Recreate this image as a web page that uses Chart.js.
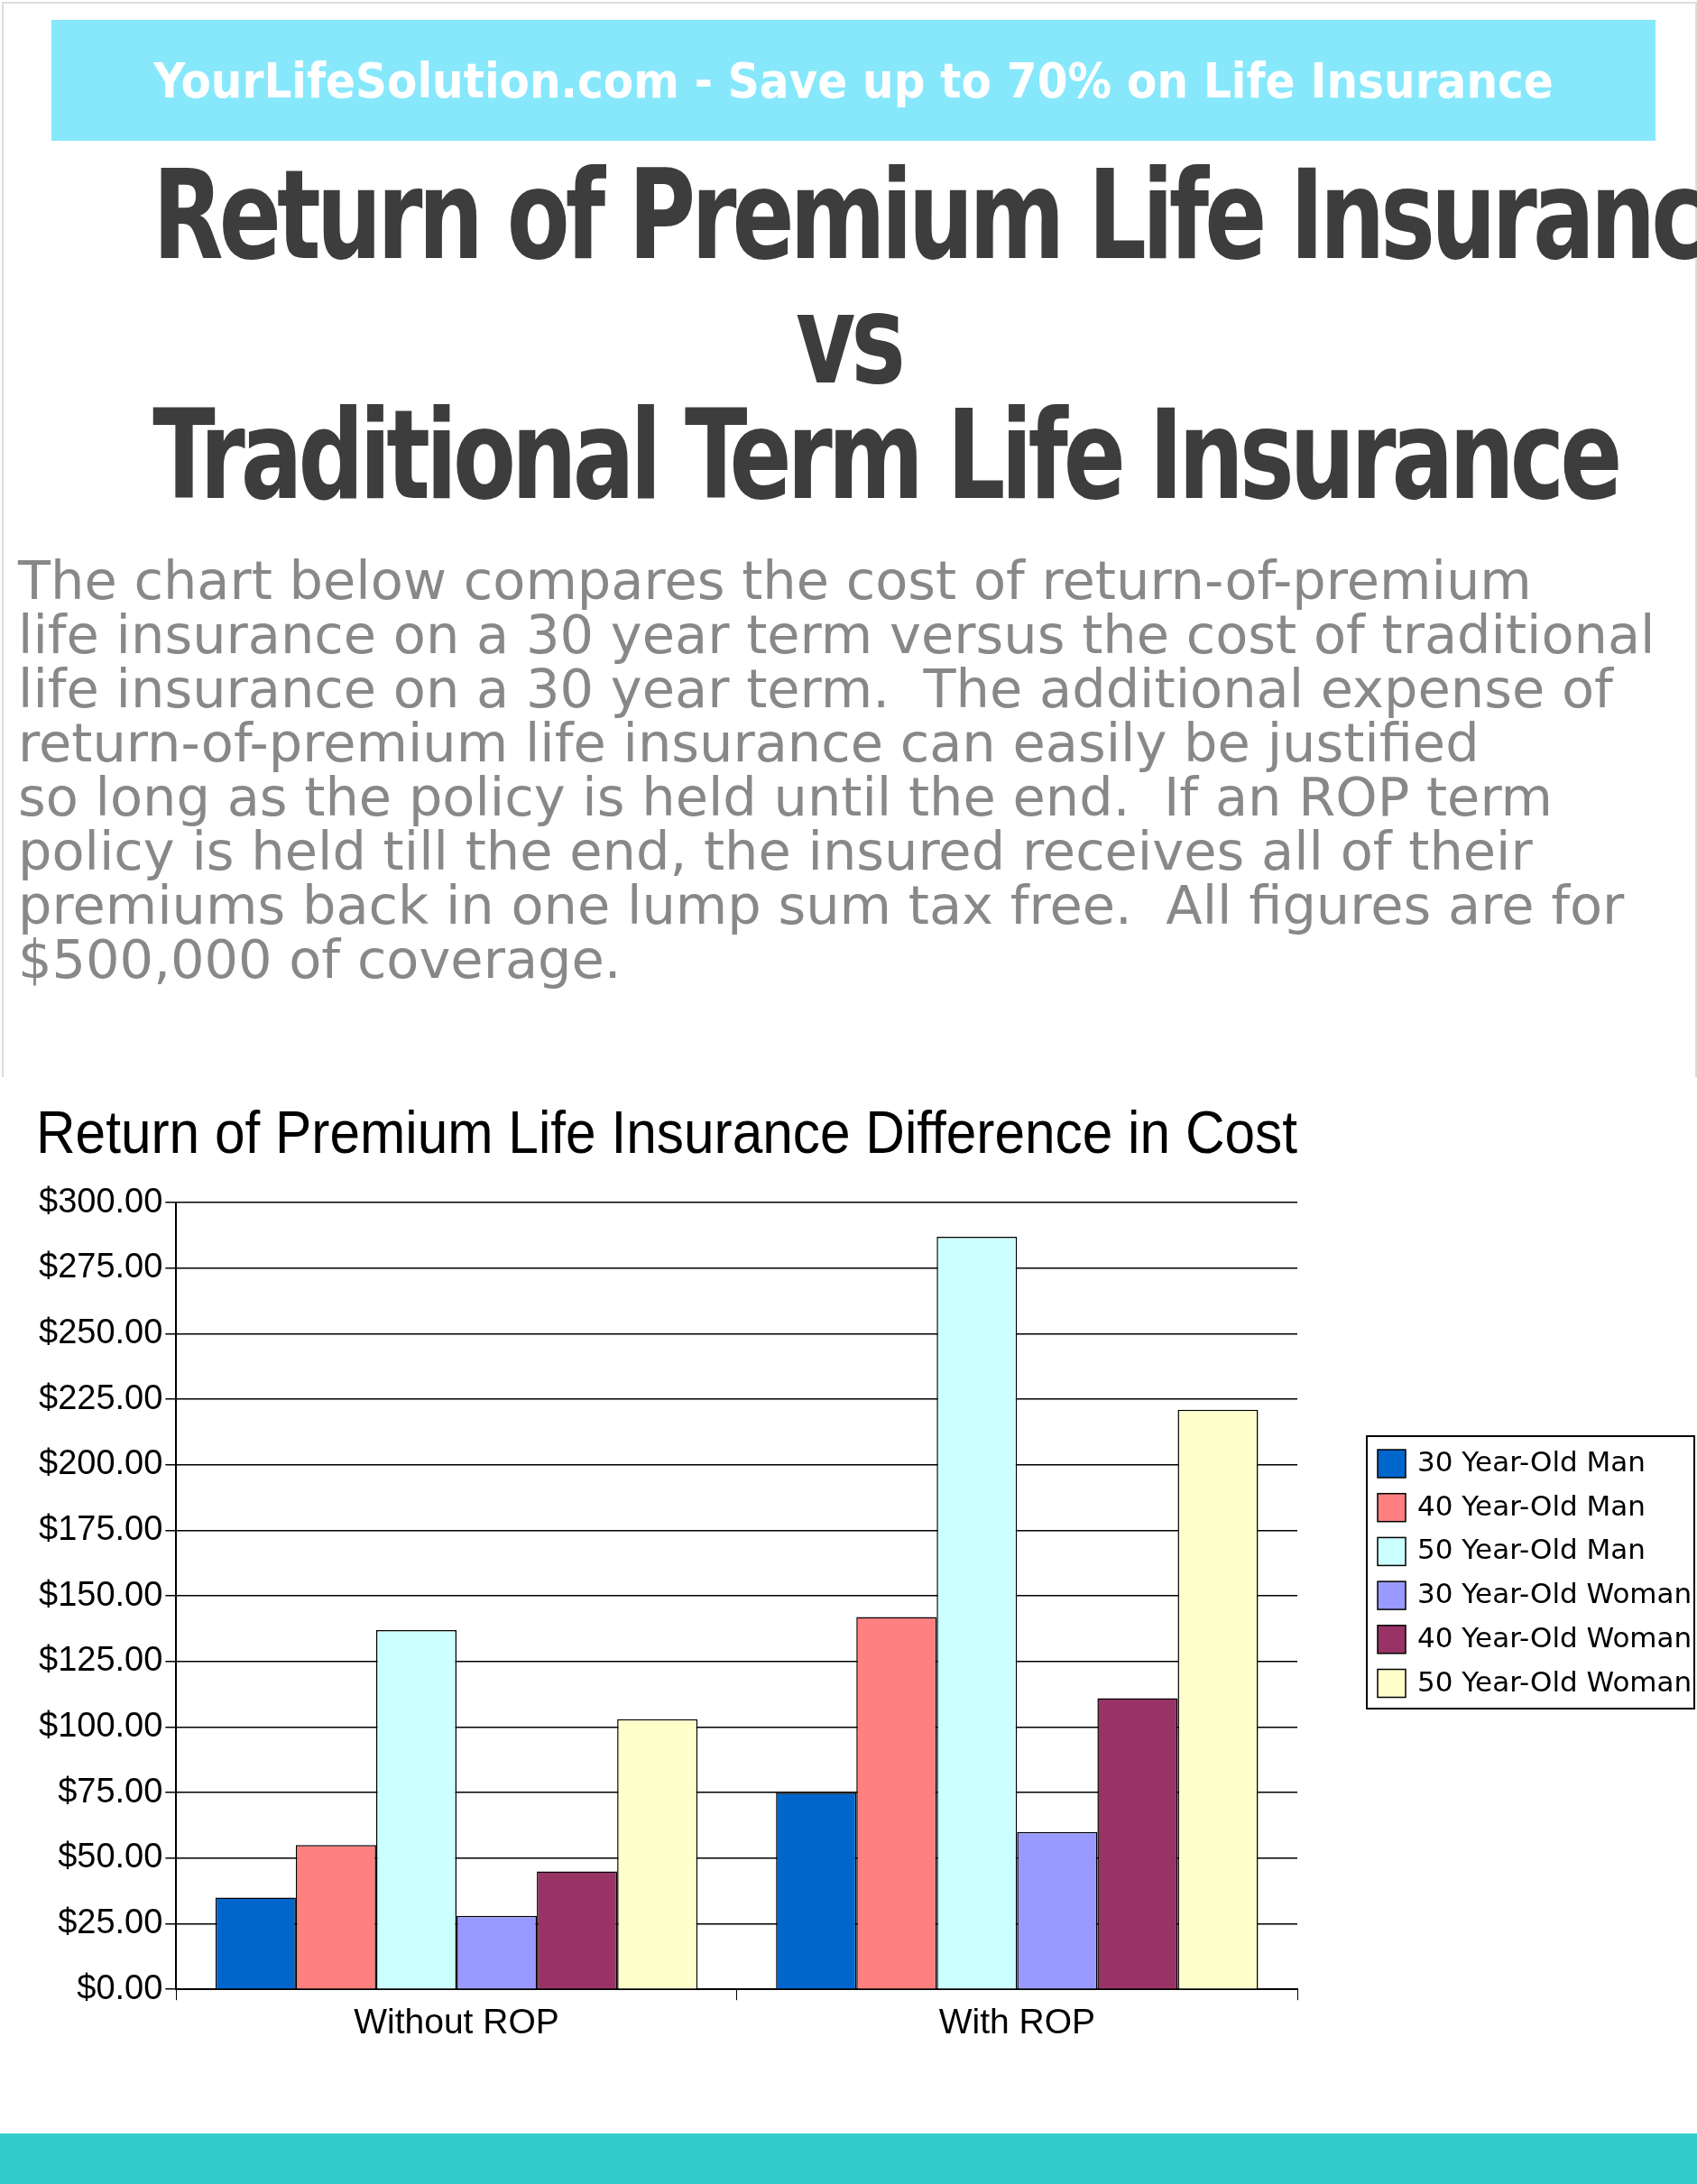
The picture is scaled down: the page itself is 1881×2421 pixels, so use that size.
<!DOCTYPE html>
<html>
<head>
<meta charset="utf-8">
<script src="https://cdn.jsdelivr.net/npm/chart.js@4"></script>
<style>
  body { margin: 0; width: 1881px; height: 2421px; background: #fff; position: relative; overflow: hidden; font-family: "DejaVu Sans", sans-serif; }
  #frame { position: absolute; left: 2px; top: 2px; width: 1875px; height: 1190px; border: 2px solid #ddd; border-bottom: none; }
  #banner { position: absolute; left: 57px; top: 22px; width: 1778px; height: 134px; background: #87e8fc; color: #fff;
    font: bold 54px "DejaVu Sans Condensed", sans-serif; display: flex; align-items: center; justify-content: center; }
  .big { position: absolute; left: 0; width: 1881px; text-align: center; color: #3d3d3d; white-space: nowrap;
    font: bold 138px "DejaVu Sans Condensed", sans-serif; letter-spacing: -6px; transform: scaleX(0.82); line-height: 1; }
  #desc { position: absolute; left: 20px; top: 614px; width: 1860px; color: #888; font: 59px "DejaVu Sans", sans-serif; line-height: 60px; white-space: nowrap; }
  #chartBox { position: absolute; left: 0; top: 1198px; width: 1881px; height: 1080px; }
  #footer { position: absolute; left: 0; top: 2365px; width: 1881px; height: 56px; background: #33cccc; }
</style>
</head>
<body>
<div id="frame"></div>
<div id="banner">YourLifeSolution.com - Save up to 70% on Life Insurance</div>
<div class="big" style="top:170px">Return of Premium Life Insurance</div>
<div class="big" style="top:308px">vs</div>
<div class="big" style="top:436px">Traditional Term Life Insurance</div>
<div id="desc">The chart below compares the cost of return-of-premium<br>life insurance on a 30 year term versus the cost of traditional<br>life insurance on a 30 year term.&nbsp; The additional expense of<br>return-of-premium life insurance can easily be justified<br>so long as the policy is held until the end.&nbsp; If an ROP term<br>policy is held till the end, the insured receives all of their<br>premiums back in one lump sum tax free.&nbsp; All figures are for<br>$500,000 of coverage.</div>
<div id="chartBox"><canvas id="costChart"></canvas></div>
<div id="footer"></div>
<script>
const categories = ["Without ROP", "With ROP"];
const seriesNames = ["30 Year-Old Man", "40 Year-Old Man", "50 Year-Old Man", "30 Year-Old Woman", "40 Year-Old Woman", "50 Year-Old Woman"];
const man30 = [35, 75];
const man40 = [55, 142];
const man50 = [137, 287];
const woman30 = [28, 60];
const woman40 = [45, 111];
const woman50 = [103, 221];
const seriesColors = ["#0066cc", "#ff8080", "#ccffff", "#9999ff", "#993366", "#ffffcc"];

const seriesData = [man30, man40, man50, woman30, woman40, woman50];

// legend drawn by hand so it can sit in a framed box right of the plot
const boxLegend = {
  id: "boxLegend",
  afterDraw(chart) {
    const c = chart.ctx;
    const x0 = 1515, y0 = 394, w = 363, h = 302, step = 48.7;
    c.save();
    c.strokeStyle = "#000";
    c.lineWidth = 2;
    c.strokeRect(x0, y0, w, h);
    c.font = "31px 'DejaVu Sans'";
    c.textBaseline = "middle";
    chart.data.datasets.forEach((ds, i) => {
      const cy = y0 + 30 + i * step;
      c.fillStyle = ds.backgroundColor;
      c.fillRect(x0 + 12, cy - 15, 31, 31);
      c.lineWidth = 1.5;
      c.strokeRect(x0 + 12, cy - 15, 31, 31);
      c.fillStyle = "#000";
      c.fillText(ds.label, x0 + 56, cy + 1);
    });
    c.restore();
  }
};

new Chart(document.getElementById("costChart"), {
  type: "bar",
  data: {
    labels: categories,
    datasets: seriesData.map((d, i) => ({
      label: seriesNames[i],
      data: d,
      backgroundColor: seriesColors[i],
      borderColor: "#000",
      borderWidth: 1.5
    }))
  },
  options: {
    responsive: true,
    maintainAspectRatio: false,
    animation: false,
    layout: { padding: { left: 40, right: 443, bottom: 8 } },
    datasets: { bar: { categoryPercentage: 0.86, barPercentage: 1 } },
    plugins: {
      title: { display: true, text: "Return of Premium Life Insurance Difference in Cost", color: "#000",
        font: { family: "Liberation Sans", size: 66, weight: "normal" }, padding: { top: 22, bottom: 34 } },
      legend: { display: false },
      tooltip: { enabled: false }
    },
    scales: {
      x: {
        grid: { display: true, drawOnChartArea: false, color: "#000", tickLength: 12, offset: true },
        border: { color: "#000", width: 2 },
        ticks: { color: "#000", font: { family: "Liberation Sans", size: 39 } }
      },
      y: {
        min: 0, max: 300,
        ticks: { stepSize: 25, color: "#000", font: { family: "Liberation Sans", size: 38 },
          callback: v => "$" + v.toFixed(2) },
        grid: { color: "#000", lineWidth: 1.5, tickLength: 12 },
        border: { color: "#000", width: 2 }
      }
    }
  },
  plugins: [boxLegend]
});
</script>
</body>
</html>
